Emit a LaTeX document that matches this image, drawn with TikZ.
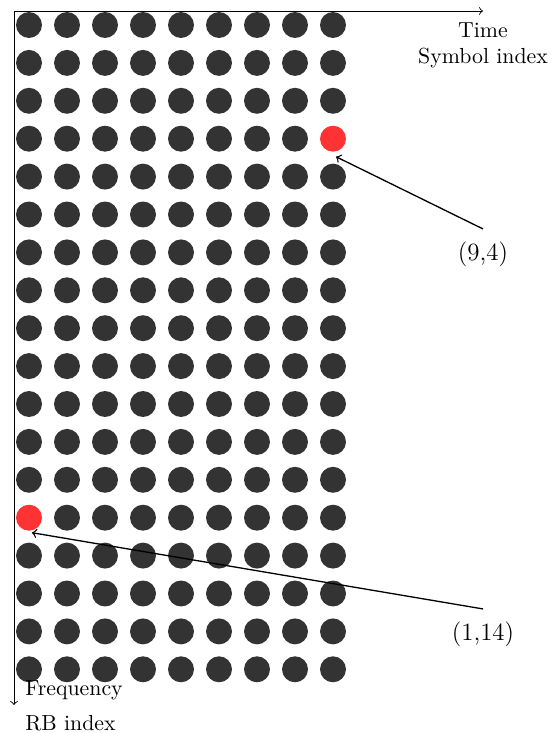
\documentclass[tikz,border=0pt]{standalone}
\begin{document}
\begin{tikzpicture}[x=0.4587pt,y=-0.4587pt,
  dot/.style={circle,fill=black!80,minimum size=11.9pt,inner sep=0pt},
  hot/.style={dot,fill=red!80},
  axis/.style={->},
  pointer/.style={->,semithick},
  lbl/.style={inner sep=0pt,anchor=base},
  coordlbl/.style={font=\fontsize{11.4}{14}\selectfont,inner sep=5.5pt,anchor=base}]
\useasboundingbox (0,0) rectangle (552,733);
\foreach \i in {1,...,9} {
  \foreach \j in {1,...,18} {
    \def\st{dot}
    \ifnum\i=9 \ifnum\j=4 \def\st{hot}\fi\fi
    \ifnum\i=1 \ifnum\j=14 \def\st{hot}\fi\fi
    \node[\st] (d\i-\j) at ({29+38*(\i-1)},{25+37.9*(\j-1)}) {};
  }
}
\coordinate (o) at (14,11);
\coordinate (xe) at (483,11);
\coordinate (ye) at (14,705);
\draw[axis] (o) -- (xe);
\draw[axis] (o) -- (ye);
\node[lbl] (time) at (483,37) {Time};
\node[lbl] (sym) at (483,63) {Symbol index};
\node[lbl,anchor=base west] (freq) at (25,695) {Frequency};
\node[lbl,anchor=base west] (rb) at (25,730) {RB index};
\node[coordlbl] (l94) at (483,260) {(9,4)};
\node[coordlbl] (l114) at (483,640) {(1,14)};
\coordinate (t94) at ([shift={(3,18)}]d9-4.center);
\coordinate (t114) at ([shift={(3,15)}]d1-14.center);
\draw[pointer] (l94.north) -- (t94);
\draw[pointer] (l114.north) -- (t114);
\end{tikzpicture}
\end{document}
